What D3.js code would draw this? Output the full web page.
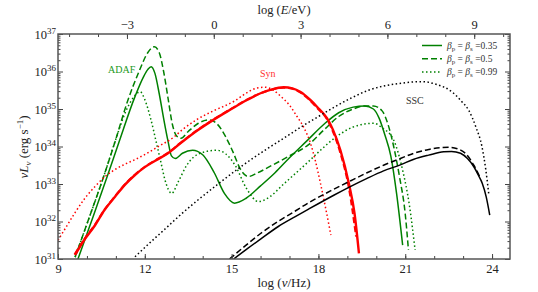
<!DOCTYPE html>
<html>
<head>
<meta charset="utf-8">
<script src="https://cdn.jsdelivr.net/npm/d3@7"></script>
<style>
    body { margin: 0; background: #fff; }
    text { font-family: "Liberation Serif", "DejaVu Serif", serif; }
</style>
</head>
<body>
<script>
// log(nu/Hz), log(nu L_nu / erg s^-1)
let adaf_035 = [[9.69,31.0],[10.2,32.1],[10.7,33.2],[11.1,34.1],[11.66,35.33],[11.95,35.85],[12.1,36.05],[12.22,36.13],[12.35,35.95],[12.5,35.4],[12.65,34.75],[12.8,34.15],[12.92,33.75],[13.05,33.68],[13.3,33.82],[13.65,33.9],[14.0,33.78],[14.4,33.3],[14.75,32.75],[15.1,32.49],[15.5,32.62],[16.0,32.95],[16.5,33.3],[17.0,33.7],[17.6,34.15],[18.2,34.6],[18.7,34.9],[19.2,35.05],[19.6,35.08],[19.9,35.0],[20.1,34.75],[20.3,34.3],[20.5,33.75],[20.7,32.75],[20.91,31.37]]
let adaf_05 = [[9.59,31.05],[10.1,32.15],[10.6,33.25],[11.0,34.2],[11.4,35.2],[11.8,36.0],[12.1,36.5],[12.33,36.66],[12.5,36.5],[12.65,36.0],[12.8,35.3],[12.95,34.6],[13.1,34.28],[13.25,34.22],[13.5,34.4],[13.85,34.62],[14.25,34.71],[14.5,34.6],[14.8,34.25],[15.05,33.85],[15.3,33.4],[15.58,33.2],[15.9,33.3],[16.4,33.5],[17.0,33.75],[17.66,34.05],[18.2,34.45],[18.7,34.8],[19.2,35.0],[19.6,35.08],[19.9,35.08],[20.2,34.95],[20.4,34.6],[20.6,34.0],[20.8,33.2],[21.0,32.2],[21.11,31.24]]
let adaf_099 = [[9.59,31.05],[10.1,32.15],[10.6,33.25],[11.0,34.2],[11.35,34.95],[11.6,35.3],[11.84,35.46],[12.0,35.25],[12.2,34.75],[12.4,34.1],[12.55,33.6],[12.7,33.1],[12.93,32.75],[13.15,33.05],[13.45,33.5],[13.91,33.82],[14.49,33.9],[14.8,33.8],[15.12,33.5],[15.5,32.9],[15.93,32.53],[16.3,32.65],[16.8,33.0],[17.66,33.6],[18.07,33.9],[18.6,34.25],[19.2,34.52],[19.6,34.6],[19.91,34.62],[20.2,34.5],[20.6,34.17],[20.9,33.4],[21.15,32.4],[21.34,31.24]]

let syn_solid = [[9.59,31.11],[9.9,31.5],[10.28,31.9],[10.6,32.3],[10.97,32.66],[11.3,32.97],[11.66,33.24],[12.0,33.45],[12.36,33.62],[12.8,33.82],[13.22,34.08],[13.8,34.42],[14.37,34.71],[14.95,34.98],[15.53,35.24],[16.0,35.42],[16.34,35.51],[16.8,35.58],[17.1,35.55],[17.37,35.46],[17.72,35.24],[17.95,35.06],[18.3,34.75],[18.5,34.45],[18.76,33.9],[19.05,33.02],[19.25,32.2],[19.4,31.15]]
let syn_dashed = [[9.57,31.12],[9.9,31.52],[10.28,31.92],[10.6,32.31],[10.97,32.67],[11.3,32.98],[11.66,33.25],[12.0,33.46],[12.36,33.63],[12.8,33.83],[13.22,34.09],[13.8,34.43],[14.37,34.72],[14.95,34.99],[15.53,35.25],[16.0,35.42],[16.34,35.51],[16.8,35.57],[17.1,35.54],[17.37,35.44],[17.72,35.22],[17.95,35.03],[18.3,34.72],[18.5,34.4],[18.76,33.82],[19.05,32.9],[19.3,31.6]]
let syn_dotted = [[9.0,31.5],[9.24,31.8],[9.6,32.25],[9.93,32.62],[10.3,32.95],[10.63,33.2],[11.0,33.4],[11.32,33.53],[11.66,33.65],[12.01,33.79],[12.47,34.0],[13.0,34.25],[13.3,34.45],[13.8,34.72],[14.37,34.95],[15.07,35.2],[15.5,35.42],[15.88,35.56],[16.15,35.58],[16.45,35.5],[16.68,35.35],[17.0,35.1],[17.26,34.8],[17.5,34.5],[17.72,34.1],[17.9,33.6],[18.07,33.02],[18.25,32.35],[18.43,31.64]]

let ssc_solid = [[15.07,31.0],[15.5,31.25],[16.0,31.53],[16.6,31.86],[17.2,32.13],[17.66,32.33],[18.53,32.7],[19.1,32.93],[19.68,33.15],[20.25,33.35],[20.83,33.51],[21.3,33.66],[21.81,33.77],[22.33,33.86],[22.6,33.87],[22.91,33.82],[23.15,33.68],[23.37,33.46],[23.55,33.2],[23.66,33.02],[23.8,32.65],[23.92,32.17]]
let ssc_dashed = [[14.93,31.0],[15.5,31.37],[16.0,31.68],[16.6,32.0],[17.2,32.28],[17.66,32.5],[18.53,32.86],[19.1,33.08],[19.68,33.3],[20.25,33.5],[20.83,33.68],[21.3,33.82],[21.81,33.92],[22.2,33.97],[22.5,33.98],[22.8,33.94],[23.1,33.8],[23.37,33.5],[23.6,33.15]]
let ssc_dotted = [[11.66,31.06],[12.2,31.45],[12.7,31.8],[13.22,32.17],[13.8,32.55],[14.5,32.98],[15.3,33.45],[16.27,33.96],[16.8,34.22],[17.42,34.53],[18.0,34.8],[18.57,35.06],[19.15,35.3],[19.73,35.5],[20.3,35.62],[20.88,35.69],[21.57,35.73],[22.1,35.65],[22.61,35.46],[22.95,35.2],[23.19,34.97],[23.45,34.5],[23.65,34.0],[23.78,33.4],[23.89,32.71]]

let x_ticks = [9, 12, 15, 18, 21, 24]
let e_ticks = [-3, 0, 3, 6, 9]
let y_exps = [31, 32, 33, 34, 35, 36, 37]
let legend_labels = ['0.35', '0.5', '0.99']
let e_offset = 14.383  // log(Hz per eV)

let margin = {top: 34, right: 28, bottom: 33, left: 58},
    width = 538 - margin.left - margin.right,
    height = 292 - margin.top - margin.bottom;

let green = '#008000', red = '#ff0000', black = '#000000'
let dash = '6,3', dot = '1.5,2.5'

let svg = d3.select('body').append('svg')
    .attr('width', 538)
    .attr('height', 292)

let g = svg.append('g')
    .attr('transform', `translate(${margin.left},${margin.top})`)

let x_scale = d3.scaleLinear().domain([9, 24.62]).range([0, width])
let e_scale = d3.scaleLinear().domain([9 - e_offset, 24.62 - e_offset]).range([0, width])
let y_scale = d3.scaleLog().domain([1e31, 1e37]).range([height, 0])

g.append('clipPath').attr('id', 'clip')
    .append('rect').attr('width', width).attr('height', height)

let line = d3.line()
    .x(d => x_scale(d[0]))
    .y(d => y_scale(Math.pow(10, d[1])))
    .curve(d3.curveMonotoneX)

let curves = [
    {data: adaf_099, color: green, w: 1.5, dash: dot},
    {data: adaf_05, color: green, w: 1.5, dash: dash},
    {data: adaf_035, color: green, w: 1.5, dash: null},
    {data: syn_dotted, color: red, w: 1.5, dash: dot},
    {data: syn_solid, color: red, w: 2.4, dash: null},
    {data: syn_dashed, color: red, w: 2.0, dash: dash},
    {data: ssc_dotted, color: black, w: 1.5, dash: dot},
    {data: ssc_dashed, color: black, w: 1.5, dash: dash},
    {data: ssc_solid, color: black, w: 1.5, dash: null},
]

g.append('g').attr('clip-path', 'url(#clip)')
    .selectAll('path')
    .data(curves)
    .enter().append('path')
    .attr('d', d => line(d.data))
    .attr('fill', 'none')
    .attr('stroke', d => d.color)
    .attr('stroke-width', d => d.w)
    .attr('stroke-dasharray', d => d.dash)

// axes, ticks pointing inward
let minor_x = d3.range(9, 25)
let minor_e = d3.range(-5, 11)
let minor_y = []
y_exps.slice(0, -1).forEach(e => { for (let k = 2; k < 10; k++) minor_y.push(k * Math.pow(10, e)) })
let major_y = y_exps.map(e => Math.pow(10, e))

function add_axis(axis, transform, values, size, labels) {
    let a = g.append('g').attr('transform', transform).attr('class', 'axis')
        .call(axis.tickValues(values).tickSize(-size).tickPadding(labels ? 5 : 0)
            .tickFormat(labels ? null : ''))
    a.select('.domain').remove()
    a.selectAll('.tick line').attr('stroke', '#444').attr('stroke-width', 1)
    a.selectAll('.tick text').attr('font-size', 12.5).attr('fill', '#222')
        .style('font-family', '"Liberation Serif", serif')
    return a
}

add_axis(d3.axisBottom(x_scale), `translate(0,${height})`, minor_x, 3, false)
add_axis(d3.axisBottom(x_scale), `translate(0,${height})`, x_ticks, 5, true)
add_axis(d3.axisTop(e_scale), 'translate(0,0)', minor_e, 3, false)
add_axis(d3.axisTop(e_scale).tickFormat(d => d), 'translate(0,0)', e_ticks, 5, true)
add_axis(d3.axisLeft(y_scale), 'translate(0,0)', minor_y, 2.5, false)
add_axis(d3.axisRight(y_scale), `translate(${width},0)`, minor_y, 2.5, false)
add_axis(d3.axisRight(y_scale), `translate(${width},0)`, major_y, 5, false)
let y_ax = add_axis(d3.axisLeft(y_scale), 'translate(0,0)', major_y, 5, true)

y_ax.selectAll('.tick text').each(function(d) {
    let t = d3.select(this).text(null).attr('x', -2)
    t.append('tspan').text('10')
    t.append('tspan').attr('dy', -5).attr('font-size', 9).text(Math.round(Math.log10(d)))
})

g.append('rect')
    .attr('width', width).attr('height', height)
    .attr('fill', 'none').attr('stroke', '#555').attr('stroke-width', 1.5)

// axis titles
svg.append('text')
    .attr('x', 284).attr('y', 287)
    .attr('text-anchor', 'middle').attr('font-size', 13).attr('fill', '#222')
    .call(t => {
        t.append('tspan').text('log (')
        t.append('tspan').attr('font-style', 'italic').text('ν')
        t.append('tspan').text('/Hz)')
    })

svg.append('text')
    .attr('x', 284).attr('y', 14)
    .attr('text-anchor', 'middle').attr('font-size', 12.5).attr('fill', '#222')
    .call(t => {
        t.append('tspan').text('log (')
        t.append('tspan').attr('font-style', 'italic').text('E')
        t.append('tspan').text('/eV)')
    })

svg.append('text')
    .attr('transform', 'translate(28,147) rotate(-90)')
    .attr('text-anchor', 'middle').attr('font-size', 13).attr('fill', '#222')
    .call(t => {
        t.append('tspan').attr('font-style', 'italic').text('νL')
        t.append('tspan').attr('font-style', 'italic').attr('font-size', 9).attr('dy', 3).text('ν')
        t.append('tspan').attr('dy', -3).text(' (erg s')
        t.append('tspan').attr('font-size', 9).attr('dy', -5).text('−1')
        t.append('tspan').attr('dy', 5).text(')')
    })

// curve labels
svg.append('text').attr('x', 108).attr('y', 73).attr('font-size', 10)
    .attr('fill', '#229922').text('ADAF')
svg.append('text').attr('x', 260).attr('y', 77).attr('font-size', 10)
    .attr('fill', '#ff3030').text('Syn')
svg.append('text').attr('x', 406).attr('y', 104).attr('font-size', 10)
    .attr('fill', '#333').text('SSC')

// legend
let legend = svg.append('g')
let legend_dash = [null, dash, dot]
legend_labels.forEach((lab, i) => {
    let yy = 45.5 + i * 13.2
    legend.append('line')
        .attr('x1', 422).attr('x2', 442).attr('y1', yy).attr('y2', yy)
        .attr('stroke', green).attr('stroke-width', 1.5)
        .attr('stroke-dasharray', legend_dash[i])
    legend.append('text')
        .attr('x', 447).attr('y', yy + 3.5).attr('font-size', 9.5).attr('fill', '#333')
        .call(t => {
            t.append('tspan').attr('font-style', 'italic').text('β')
            t.append('tspan').attr('font-size', 7).attr('dy', 2).text('p')
            t.append('tspan').attr('dy', -2).text(' = ')
            t.append('tspan').attr('font-style', 'italic').text('β')
            t.append('tspan').attr('font-size', 7).attr('dy', 2).text('s')
            t.append('tspan').attr('dy', -2).text(' =' + lab)
        })
})
</script>
</body>
</html>
